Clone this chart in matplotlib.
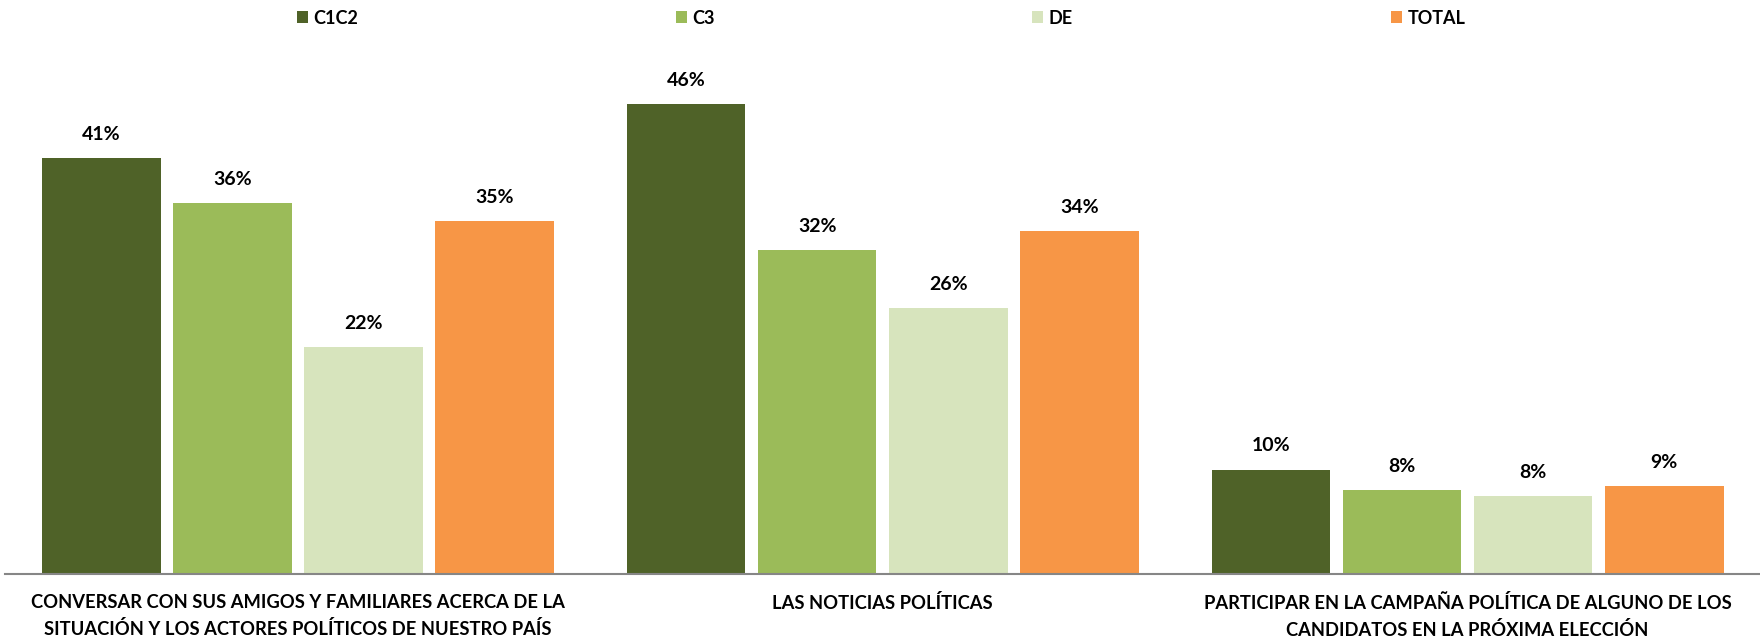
import matplotlib
matplotlib.use("Agg")
import matplotlib.pyplot as plt
from matplotlib.patches import Patch
import numpy as np

plt.rcParams['font.family'] = ['Lato', 'DejaVu Sans']
plt.rcParams['font.weight'] = 'bold'

categories = [
    "CONVERSAR CON SUS AMIGOS Y FAMILIARES ACERCA DE LA\nSITUACIÓN Y LOS ACTORES POLÍTICOS DE NUESTRO PAÍS",
    "LAS NOTICIAS POLÍTICAS",
    "PARTICIPAR EN LA CAMPAÑA POLÍTICA DE ALGUNO DE LOS\nCANDIDATOS EN LA PRÓXIMA ELECCIÓN",
]
series_names = ["C1C2", "C3", "DE", "TOTAL"]
c1c2 = [40.7, 46.0, 10.2]
c3 = [36.3, 31.7, 8.2]
de = [22.2, 26.0, 7.6]
total = [34.6, 33.6, 8.6]
labels_c1c2 = ["41%", "46%", "10%"]
labels_c3 = ["36%", "32%", "8%"]
labels_de = ["22%", "26%", "8%"]
labels_total = ["35%", "34%", "9%"]

colors = ["#4F6228", "#9BBB59", "#D7E4BD", "#F79646"]
series = [c1c2, c3, de, total]
series_labels = [labels_c1c2, labels_c3, labels_de, labels_total]

fig = plt.figure(figsize=(17.6, 6.4), dpi=100)
ax = fig.add_axes([0.003, 0.1037, 0.997, 0.797])

x = np.arange(len(categories))
step = 0.2241
width = 0.2031
for i, (vals, labs, col) in enumerate(zip(series, series_labels, colors)):
    xs = x + (i - 1.5) * step
    bars = ax.bar(xs, vals, width=width, color=col, edgecolor='none')
    for b, lab in zip(bars, labs):
        ax.annotate(lab, (b.get_x() + b.get_width() / 2, b.get_height()),
                    xytext=(0, 17), textcoords='offset points',
                    ha='center', va='center', fontsize=14, fontweight='bold',
                    color='#000000')

ax.set_xlim(-0.5, 2.5)
ax.set_ylim(0, 50)
ax.set_xticks(x)
ax.set_xticklabels(categories, fontsize=13.2, fontweight='bold', linespacing=1.62)
ax.tick_params(axis='x', length=0, pad=14.5)
ax.set_yticks([])
for s in ['top', 'left', 'right']:
    ax.spines[s].set_visible(False)
ax.spines['bottom'].set_color('#868686')
ax.spines['bottom'].set_linewidth(1.5)

legend_x = [296.7, 676, 1032, 1391]
for name, col, lx in zip(series_names, colors, legend_x):
    fig.legend(handles=[Patch(facecolor=col, edgecolor='none')], labels=[name],
               loc='center left', bbox_to_anchor=(lx / 1760, 1 - 18 / 640),
               frameon=False, prop={'weight': 'bold', 'size': 13},
               handlelength=0.62, handleheight=0.62, handletextpad=0.3,
               borderpad=0, borderaxespad=0)

fig.savefig("out.png", dpi=100)
